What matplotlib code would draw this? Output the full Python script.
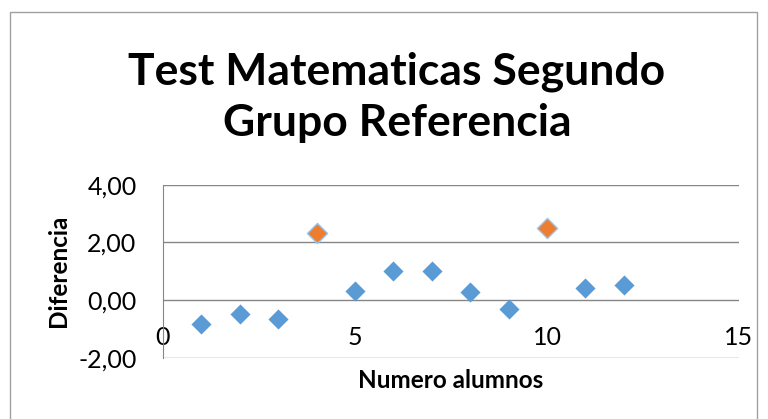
import matplotlib
import matplotlib.pyplot as plt
from matplotlib.patches import Rectangle

matplotlib.rcParams.update({
    "font.family": ["Lato", "DejaVu Sans"],
})

# data
alumnos = [1, 2, 3, 5, 6, 7, 8, 9, 11, 12]
diferencia = [-0.83, -0.49, -0.67, 0.33, 1.01, 1.01, 0.27, -0.32, 0.42, 0.52]
alumnos_dest = [4, 10]
diferencia_dest = [2.34, 2.51]

y_ticks = [-2, 0, 2, 4]
x_ticks = [0, 5, 10, 15]

BLUE = "#5B9BD5"
ORANGE = "#ED7D31"
GRID = "#868686"

fig = plt.figure(figsize=(7.68, 4.19), dpi=100)
ax = fig.add_axes([163 / 768, 1 - 357.7 / 419, 576 / 768, 173 / 419])

ax.scatter(alumnos, diferencia, marker="D", s=105, color=BLUE, zorder=3, linewidths=0)
ax.scatter(alumnos_dest, diferencia_dest, marker="D", s=105, color=ORANGE,
           edgecolors="#9DC3E6", linewidths=1.0, zorder=3)

ax.set_xlim(0, 15)
ax.set_ylim(-2, 4)
ax.set_xticks(x_ticks)
ax.set_yticks(y_ticks)
ax.set_yticklabels([f"{v:.2f}".replace(".", ",") for v in y_ticks])
ax.grid(axis="y", color=GRID, linewidth=1)
ax.set_axisbelow(True)

for side in ["top", "right"]:
    ax.spines[side].set_visible(False)
ax.spines["left"].set_color(GRID)
ax.spines["bottom"].set_position(("data", 0))
ax.spines["bottom"].set_visible(False)

ax.tick_params(axis="x", length=0, pad=19, labelsize=18, colors="black")
ax.tick_params(axis="y", length=0, pad=19, labelsize=18)

ax.set_xlabel("Numero alumnos", fontsize=17.5, fontweight="bold")
ax.xaxis.set_label_coords(0.5, -0.065)
ax.set_ylabel("Diferencia", fontsize=17.5, fontweight="bold")
ax.yaxis.set_label_coords(-0.1615, 0.5)

fig.text(397 / 768, 1 - 97.5 / 419, "Test Matematicas Segundo\nGrupo Referencia",
         ha="center", va="center", fontsize=32, fontweight="bold", linespacing=1.32)

fig.patches.append(Rectangle((9.5 / 768, -0.1), (757 - 9.5) / 768, 1.1 - 12 / 419,
                             transform=fig.transFigure, fill=False,
                             edgecolor="#A0A0A0", linewidth=1))

fig.savefig("out.png", dpi=100)
